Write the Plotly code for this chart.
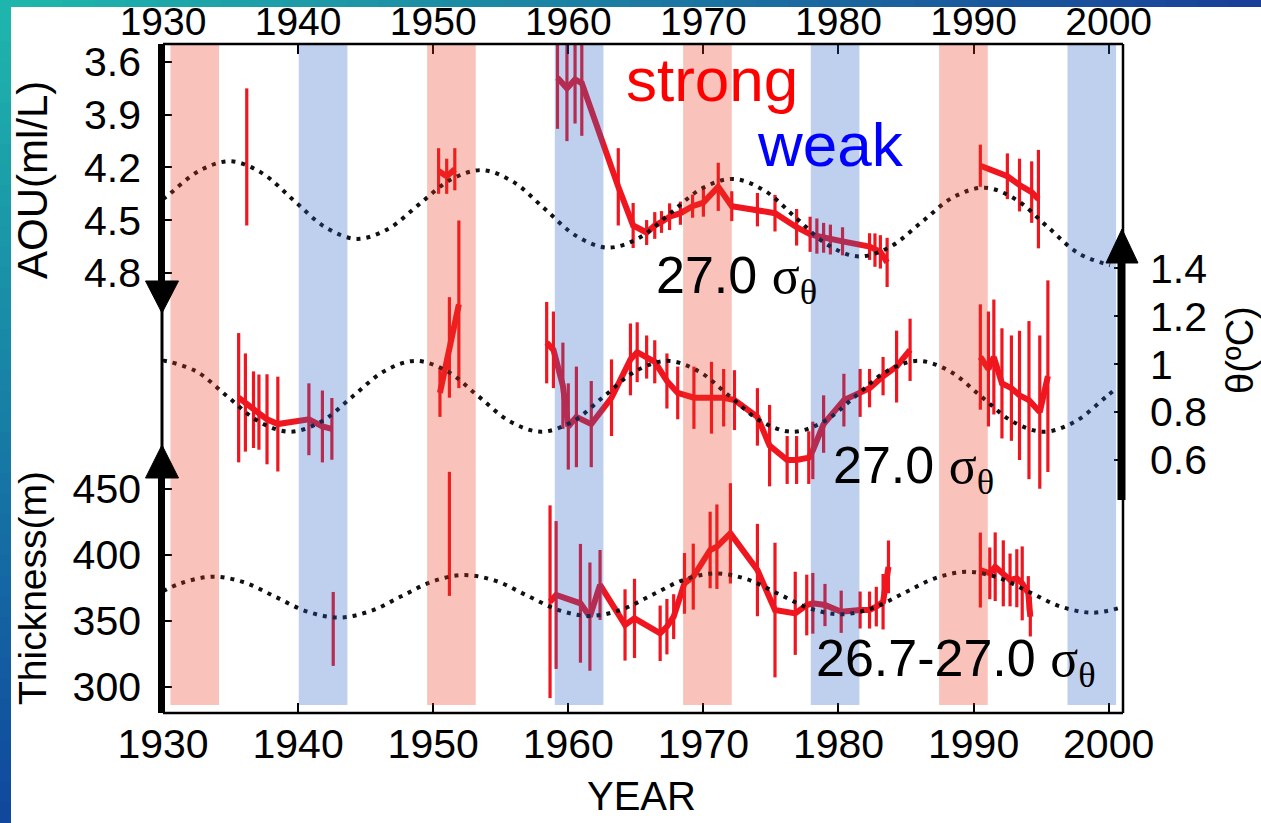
import plotly.graph_objects as go

# ---------------- data ----------------
YEAR_TICKS = [1930, 1940, 1950, 1960, 1970, 1980, 1990, 2000]
YEAR_LABELS = ["1930", "1940", "1950", "1960", "1970", "1980", "1990", "2000"]
AOU_TICKS = [3.6, 3.9, 4.2, 4.5, 4.8]
AOU_LABELS = ["3.6", "3.9", "4.2", "4.5", "4.8"]
THETA_TICKS = [0.6, 0.8, 1.0, 1.2, 1.4]
THETA_LABELS = ["0.6", "0.8", "1", "1.2", "1.4"]
THICK_TICKS = [300, 350, 400, 450]
THICK_LABELS = ["300", "350", "400", "450"]

# AOU (ml/L), 27.0 sigma-theta  (None = gap between survey segments)
aou_years = [1936.2, None,
             1950.4, 1951.0, 1951.6, None,
             1959.2, 1959.9, 1960.5, 1961.0, 1963.7, 1964.8, 1965.8, 1966.4, 1966.9,
             1967.5, 1968.3, 1969.2, 1970.0, 1971.1, 1972.1, 1974.0, 1975.3, 1976.9,
             1977.9, 1978.4, 1978.9, 1979.4, 1980.3, 1982.3, 1982.7, 1983.1, 1983.6, None,
             1990.5, 1992.5, 1993.4, 1994.3, 1994.8]
aou_vals = [4.14, None,
            4.22, 4.25, 4.21, None,
            3.69, 3.75, 3.70, 3.72, 4.31, 4.53, 4.57, 4.53, 4.51,
            4.48, 4.46, 4.42, 4.40, 4.31, 4.42, 4.44, 4.46, 4.54,
            4.58, 4.59, 4.60, 4.61, 4.62, 4.65, 4.67, 4.68, 4.74, None,
            4.19, 4.25, 4.30, 4.34, 4.38]
aou_err = [0.39, 0,
           0.13, 0.10, 0.12, 0,
           0.29, 0.30, 0.25, 0.30, 0.22, 0.128, 0.071, 0.076, 0.062,
           0.076, 0.066, 0.066, 0.08, 0.137, 0.085, 0.095, 0.104, 0.104,
           0.10, 0.10, 0.085, 0.085, 0.08, 0.076, 0.095, 0.095, 0.14, 0,
           0.12, 0.13, 0.15, 0.175, 0.28]

# potential temperature (deg C), 27.0 sigma-theta
theta_years = [1935.6, 1936.1, 1936.7, 1937.1, 1937.7, 1938.5, 1940.8, 1941.8, 1942.5, None,
               1950.5, 1951.2, 1951.9, None,
               1958.4, 1958.9, 1959.6, 1960.0, 1960.6, 1961.7, 1963.2, 1964.6, 1965.1, 1965.8,
               1966.4, 1967.3, 1968.1, 1969.3, 1970.6, 1971.5, 1972.3, 1974.0, 1974.9, 1976.2,
               1976.9, 1977.8, 1978.1, 1978.9, 1980.4, 1981.6, 1982.3, 1983.3, 1984.3, 1985.3, None,
               1990.5, 1991.1, 1991.5, 1992.1, 1992.8, 1993.4, 1994.1, 1994.9, 1995.5]
theta_vals = [0.86, 0.84, 0.81, 0.80, 0.77, 0.75, 0.77, 0.74, 0.73, None,
              0.88, 1.07, 1.25, None,
              1.09, 1.06, 0.91, 0.74, 0.78, 0.75, 0.86, 1.02, 1.05, 1.03,
              1.01, 0.93, 0.88, 0.86, 0.86, 0.86, 0.85, 0.78, 0.66, 0.60,
              0.60, 0.61, 0.64, 0.75, 0.85, 0.88, 0.90, 0.95, 0.99, 1.06, None,
              1.03, 0.98, 1.03, 0.92, 0.90, 0.87, 0.85, 0.80, 0.95]
theta_err = [0.27, 0.205, 0.16, 0.157, 0.188, 0.198, 0.15, 0.15, 0.129, 0,
             0.10, 0.21, 0.35, 0,
             0.17, 0.16, 0.18, 0.18, 0.21, 0.18, 0.16, 0.15, 0.125, 0.09,
             0.09, 0.115, 0.11, 0.13, 0.15, 0.12, 0.125, 0.12, 0.17, 0.10,
             0.10, 0.11, 0.12, 0.12, 0.11, 0.10, 0.08, 0.08, 0.15, 0.13, 0,
             0.22, 0.24, 0.24, 0.23, 0.22, 0.27, 0.33, 0.32, 0.40]

# layer thickness (m), 26.7-27.0 sigma-theta
thick_years = [1942.6, None,
               1951.2, None,
               1958.65, 1959.1, 1960.9, 1961.6, 1962.35, 1964.2, 1964.9, 1966.8, 1967.3,
               1967.8, 1968.6, 1969.25, 1970.5, 1971.0, 1972.0, 1974.0, 1975.3, 1976.8,
               1977.65, 1978.1, 1979.0, 1980.2, 1981.6, 1982.3, 1982.8, 1983.3, 1983.7, None,
               1990.5, 1991.2, 1991.6, 1992.2, 1992.7, 1993.2, 1993.6, 1994.05, 1994.2]
thick_vals = [344, None,
              416, None,
              364.6, 369.7, 363.4, 353.3, 377.3, 347, 352, 340.7, 345.7,
              353.3, 378.5, 383.6, 403.8, 406.3, 416.4, 388.6, 358.3, 355.8,
              362.1, 363.4, 362.1, 357, 358.3, 358.3, 360.9, 364.6, 391, None,
              388.6, 386.1, 391.1, 386.1, 381.1, 382.4, 378.5, 371, 353.3]
thick_err = [28, 0,
             47, 0,
             73, 56, 45, 41, 26.5, 27, 30, 21, 21,
             17, 23, 25, 29, 32, 38, 35, 51, 31.5,
             23, 23, 16, 16, 14, 14, 15, 21, 20, 0,
             28.4, 19.6, 26, 25, 20, 22, 28, 13, 15]

# 18.6-year nodal-cycle curves (dotted)
aou_cyc_years = [1930.0, 1930.35, 1932.68, 1935.0, 1937.33, 1939.65, 1941.98, 1944.3, 1946.63,
                 1948.95, 1951.28, 1953.6, 1955.93, 1958.25, 1960.58, 1962.9, 1965.23, 1967.55,
                 1969.88, 1972.2, 1974.53, 1976.85, 1979.18, 1981.5, 1983.83, 1986.15, 1988.48,
                 1990.8, 1993.13, 1995.45, 1997.78, 2000.1]
aou_cyc_vals = [4.38, 4.36, 4.219, 4.165, 4.232, 4.385, 4.538, 4.606, 4.551,
                4.41, 4.27, 4.215, 4.282, 4.435, 4.589, 4.656, 4.601, 4.46,
                4.32, 4.265, 4.332, 4.486, 4.639, 4.706, 4.651, 4.511, 4.37,
                4.315, 4.382, 4.536, 4.689, 4.756]

theta_cyc_years = [1930.0, 1930.1, 1932.43, 1934.75, 1937.08, 1939.4, 1941.73, 1944.05, 1946.38,
                   1948.7, 1951.03, 1953.35, 1955.68, 1958.0, 1960.33, 1962.65, 1964.98, 1967.3,
                   1969.63, 1971.95, 1974.28, 1976.6, 1978.93, 1981.25, 1983.58, 1985.9, 1988.23,
                   1990.55, 1992.88, 1995.2, 1997.53, 1999.85, 2000.6]
theta_cyc_vals = [1.013, 1.014, 0.971, 0.866, 0.761, 0.718, 0.761, 0.866, 0.971,
                  1.014, 0.971, 0.866, 0.761, 0.718, 0.761, 0.866, 0.971, 1.014,
                  0.971, 0.866, 0.761, 0.718, 0.761, 0.866, 0.971, 1.014, 0.971,
                  0.866, 0.761, 0.718, 0.761, 0.866, 0.90]

thick_cyc_years = [1930.0, 1931.38, 1933.7, 1936.03, 1938.35, 1940.68, 1943.0, 1945.33, 1947.65,
                   1949.98, 1952.3, 1954.63, 1956.95, 1959.28, 1961.6, 1963.93, 1966.25, 1968.58,
                   1970.9, 1973.23, 1975.55, 1977.88, 1980.2, 1982.53, 1984.85, 1987.18, 1989.5,
                   1991.83, 1994.15, 1996.48, 1998.8, 2000.8]
thick_cyc_vals = [372.6, 378.8, 383.6, 379.2, 368.1, 357.1, 352.6, 357.4, 368.7,
                  380.1, 384.8, 380.4, 369.3, 358.3, 353.8, 358.6, 370.0, 381.3,
                  386.1, 381.6, 370.6, 359.5, 355.1, 359.8, 371.2, 382.5, 387.3,
                  382.8, 371.8, 360.8, 356.3, 359.9]

# shaded periods: strong (red) and weak (blue)
strong_starts = [1930.55, 1949.55, 1968.5, 1987.45]
weak_starts = [1940.05, 1959.0, 1977.95, 1996.95]
band_width = 3.6

# ---------------- styling / layout helpers ----------------
W, H = 1261, 823
L, R, T, B = 163, 1123, 44, 713
RED = "rgb(240,22,32)"
FONT = "Liberation Sans, Arial, sans-serif"


def px(x):
    return (x - L) / (R - L)


def py(y):
    return (B - y) / (B - T)


fig = go.Figure()

err_style = dict(type="data", thickness=3.2, width=0, color=RED, visible=True)
fig.add_trace(go.Scatter(x=aou_years, y=aou_vals, mode="lines", xaxis="x", yaxis="y",
                         line=dict(color=RED, width=6), connectgaps=False,
                         error_y=dict(array=aou_err, **err_style), hoverinfo="skip"))
fig.add_trace(go.Scatter(x=theta_years, y=theta_vals, mode="lines", xaxis="x", yaxis="y2",
                         line=dict(color=RED, width=6), connectgaps=False,
                         error_y=dict(array=theta_err, **err_style), hoverinfo="skip"))
fig.add_trace(go.Scatter(x=thick_years, y=thick_vals, mode="lines", xaxis="x", yaxis="y3",
                         line=dict(color=RED, width=6), connectgaps=False,
                         error_y=dict(array=thick_err, **err_style), hoverinfo="skip"))

dot = dict(color="rgb(15,15,20)", width=4, dash="4px,6px", shape="spline", smoothing=1.0)
fig.add_trace(go.Scatter(x=aou_cyc_years, y=aou_cyc_vals, mode="lines", yaxis="y", line=dot,
                         hoverinfo="skip"))
fig.add_trace(go.Scatter(x=theta_cyc_years, y=theta_cyc_vals, mode="lines", yaxis="y2", line=dot,
                         hoverinfo="skip"))
fig.add_trace(go.Scatter(x=thick_cyc_years, y=thick_cyc_vals, mode="lines", yaxis="y3", line=dot,
                         hoverinfo="skip"))
# anchor trace for the top year axis
fig.add_trace(go.Scatter(x=[None], y=[None], xaxis="x2", yaxis="y", hoverinfo="skip"))

shapes = []
# gradient border strips (decoration)
N = 40
c0 = (30, 182, 172)
c_top = (24, 64, 152)
c_left = (16, 72, 158)
for i in range(N):
    f = i / (N - 1)
    col = "rgb(%d,%d,%d)" % tuple(round(a + (b - a) * f) for a, b in zip(c0, c_top))
    shapes.append(dict(type="rect", xref="paper", yref="paper", layer="above",
                       x0=px(W * i / N), x1=px(W * (i + 1) / N + 1), y0=py(7), y1=py(0),
                       fillcolor=col, line=dict(width=0)))
    col = "rgb(%d,%d,%d)" % tuple(round(a + (b - a) * f) for a, b in zip(c0, c_left))
    shapes.append(dict(type="rect", xref="paper", yref="paper", layer="above",
                       x0=px(0), x1=px(11), y0=py(H * (i + 1) / N + 1), y1=py(H * i / N),
                       fillcolor=col, line=dict(width=0)))

# shaded bands (drawn semi-transparent above the data)
for s in strong_starts:
    shapes.append(dict(type="rect", xref="x", yref="paper", x0=s, x1=s + band_width,
                       y0=py(705), y1=1, fillcolor="rgb(236,56,30)", opacity=0.3,
                       line=dict(width=0), layer="above"))
for s in weak_starts:
    shapes.append(dict(type="rect", xref="x", yref="paper", x0=s, x1=min(s + band_width, 2000.55),
                       y0=py(705), y1=1, fillcolor="rgb(42,95,198)", opacity=0.3,
                       line=dict(width=0), layer="above"))

# frame
blk = "black"
shapes += [
    dict(type="line", xref="paper", yref="paper", x0=0, x1=1, y0=1, y1=1, line=dict(color=blk, width=2.5)),
    dict(type="line", xref="paper", yref="paper", x0=0, x1=1, y0=0, y1=0, line=dict(color=blk, width=2.5)),
    dict(type="line", xref="paper", yref="paper", x0=1, x1=1, y0=0, y1=1, line=dict(color=blk, width=2.5)),
    # left axis: thick / thin / thick with arrowheads
    dict(type="line", xref="paper", yref="paper", x0=px(161.5), x1=px(161.5), y0=1, y1=py(284), line=dict(color=blk, width=7)),
    dict(type="line", xref="paper", yref="paper", x0=px(162), x1=px(162), y0=py(300), y1=py(460), line=dict(color=blk, width=3)),
    dict(type="line", xref="paper", yref="paper", x0=px(161.5), x1=px(161.5), y0=py(475), y1=0, line=dict(color=blk, width=7)),
    # right axis thick segment
    dict(type="line", xref="paper", yref="paper", x0=px(1121.5), x1=px(1121.5), y0=py(260), y1=py(500), line=dict(color=blk, width=8)),
]


def tri(xc, ytip, ybase, hw):
    return ("M %f,%f L %f,%f L %f,%f Z" % (px(xc), py(ytip), px(xc - hw), py(ybase), px(xc + hw), py(ybase)))


for path in [tri(162, 313, 281, 16.5), tri(162, 445, 478, 16.5), tri(1122, 229, 263, 16)]:
    shapes.append(dict(type="path", xref="paper", yref="paper", path=path,
                       fillcolor=blk, line=dict(color=blk, width=1)))

sig = '<span style="font-family:Liberation Serif, serif">σ<sub>θ</sub></span>'
ann = [
    dict(text="strong", x=px(711.5), y=py(79.7), font=dict(size=62, color="rgb(255,0,0)")),
    dict(text="weak", x=px(830), y=py(144.7), font=dict(size=62, color="rgb(0,0,255)")),
    dict(text="27.0 " + sig, x=px(654), y=py(279), xanchor="left", font=dict(size=52, color="black")),
    dict(text="27.0 " + sig, x=px(831), y=py(469), xanchor="left", font=dict(size=52, color="black")),
    dict(text="26.7-27.0 " + sig, x=px(814), y=py(662), xanchor="left", font=dict(size=52, color="black")),
    dict(text="YEAR", x=px(641), y=py(796), font=dict(size=40, color="black")),
    dict(text="AOU(ml/L)", x=px(32), y=py(180), textangle=-90, font=dict(size=42, color="black")),
    dict(text="Thickness(m)", x=px(32), y=py(588), textangle=-90, font=dict(size=39, color="black")),
    dict(text="θ(ºC)", x=px(1240), y=py(350), textangle=-90, font=dict(size=38, color="black")),
]
for a in ann:
    a.setdefault("xanchor", "center")
    a.update(xref="paper", yref="paper", yanchor="middle", showarrow=False)

tickfont = dict(family=FONT, size=41, color="black")
topfont = dict(family=FONT, size=39, color="black")
common_y = dict(showgrid=False, zeroline=False, showline=False, ticks="inside", ticklen=9,
                tickwidth=2, tickcolor="black", tickfont=tickfont, domain=[0, 1])

fig.update_layout(
    width=W, height=H, autosize=False,
    margin=dict(l=L, r=W - R, t=T, b=H - B, pad=0),
    paper_bgcolor="white", plot_bgcolor="white", showlegend=False,
    font=dict(family=FONT, color="black"),
    xaxis=dict(range=[1930, 2001.06], tickvals=YEAR_TICKS, ticktext=YEAR_LABELS, showgrid=False,
               zeroline=False, showline=False, ticks="inside", ticklen=10, tickwidth=2,
               tickcolor="black", tickfont=tickfont, ticklabelstandoff=3, anchor="y",
               automargin=False),
    xaxis2=dict(range=[1930, 2001.06], tickvals=YEAR_TICKS, ticktext=YEAR_LABELS, showgrid=False,
                zeroline=False, showline=False, ticks="inside", ticklen=10, tickwidth=2,
                tickcolor="black", tickfont=topfont, overlaying="x", side="top", anchor="y",
                automargin=False),
    yaxis=dict(range=[7.303, 3.4976], tickvals=AOU_TICKS, ticktext=AOU_LABELS, side="left",
               anchor="x", ticklabelstandoff=21, automargin=False, **common_y),
    yaxis2=dict(range=[-0.4564, 2.337], tickvals=THETA_TICKS, ticktext=THETA_LABELS, side="right",
                overlaying="y", anchor="x", ticklabelstandoff=26, automargin=False, **common_y),
    yaxis3=dict(range=[280.3, 787.12], tickvals=THICK_TICKS, ticktext=THICK_LABELS, side="left",
                overlaying="y", anchor="x", ticklabelstandoff=21, automargin=False, **common_y),
    shapes=shapes,
    annotations=ann,
)

fig.write_html(
    "out.html",
    config={"displayModeBar": False},
    post_script="document.body.style.margin='0';document.documentElement.style.overflow='hidden';"
                "document.body.style.overflow='hidden';",
)
